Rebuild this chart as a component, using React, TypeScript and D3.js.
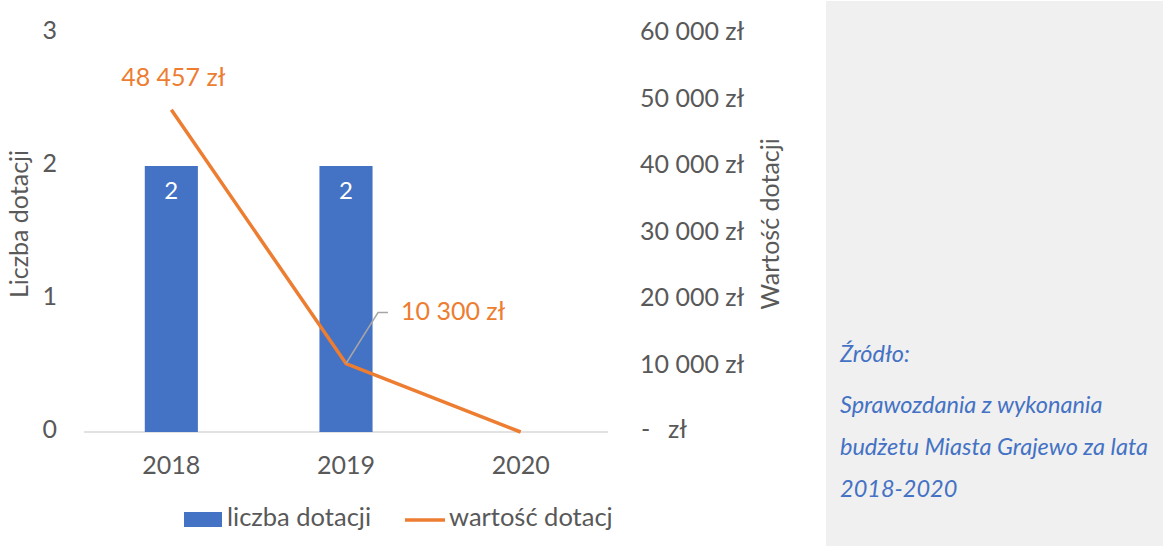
import React from "react";
import * as d3 from "d3";

const categories = ["2018", "2019", "2020"];
const countValues = [2, 2, 0];
const amountValues = [48457, 10300, 0];
const leftTicks = [0, 1, 2, 3];
const rightTicks = [0, 10000, 20000, 30000, 40000, 50000, 60000];
const sourceLines = [
  "Źródło:",
  "Sprawozdania z wykonania",
  "budżetu Miasta Grajewo za lata",
  "2018-2020",
];

const W = 1163;
const H = 546;
const FONT = "Lato, 'Open Sans', sans-serif";
const BLUE = "#4472C4";
const ORANGE = "#ED7D31";
const TXT = "#595959";

const fmtZl = (v: number) => {
  if (v === 0) return null;
  const s = d3.format(",")(v).replace(/,/g, " ");
  return s + " zł";
};

export default function App() {
  const x = d3.scaleBand<string>().domain(categories).range([84, 608]).paddingInner(0.696).paddingOuter(0.348);
  const yL = d3.scaleLinear().domain([0, 3]).range([432, 33]);
  const yR = d3.scaleLinear().domain([0, 60000]).range([432, 33]);
  const cx = (c: string) => (x(c) as number) + x.bandwidth() / 2;

  const line = d3
    .line<number>()
    .x((_, i) => cx(categories[i]))
    .y((d) => yR(d));

  const p2019x = cx(categories[1]);
  const p2019y = yR(amountValues[1]);

  return (
    <svg
      width={W}
      height={H}
      style={{ position: "absolute", left: 0, top: 0, fontFamily: FONT }}
    >
      <rect x={0} y={0} width={W} height={H} fill="#fff" />
      <rect x={826} y={1} width={W - 826} height={H - 1} fill="#F0F0F0" />

      {/* axis baseline */}
      <line x1={84} x2={608} y1={yL(0)} y2={yL(0)} stroke="#D9D9D9" strokeWidth={1.5} />

      {/* bars */}
      {countValues.map((v, i) =>
        v > 0 ? (
          <g key={"b" + i}>
            <rect
              x={x(categories[i])}
              y={yL(v)}
              width={x.bandwidth()}
              height={yL(0) - yL(v)}
              fill={BLUE}
            />
            <text
              x={cx(categories[i])}
              y={yL(v) + 27}
              textAnchor="middle"
              dominantBaseline="middle"
              fill="#fff"
              fontSize={24}
            >
              {v}
            </text>
          </g>
        ) : null
      )}

      {/* line */}
      <path d={line(amountValues) || ""} fill="none" stroke={ORANGE} strokeWidth={3.5} strokeLinejoin="round" />

      {/* data labels */}
      <text
        x={cx(categories[0]) + 2}
        y={yR(amountValues[0]) - 30}
        textAnchor="middle"
        dominantBaseline="middle"
        fill={ORANGE}
        fontSize={25}
      >
        {fmtZl(amountValues[0])}
      </text>
      <polyline
        points={`${p2019x},${p2019y} ${p2019x + 32},${p2019y - 51} ${p2019x + 42},${p2019y - 51}`}
        fill="none"
        stroke="#A6A6A6"
        strokeWidth={1.5}
      />
      <text
        x={p2019x + 55}
        y={p2019y - 50}
        textAnchor="start"
        dominantBaseline="middle"
        fill={ORANGE}
        fontSize={25}
      >
        {fmtZl(amountValues[1])}
      </text>

      {/* left ticks */}
      {leftTicks.map((t) => (
        <text key={"l" + t} x={57} y={yL(t)} textAnchor="end" dominantBaseline="middle" fill={TXT} fontSize={25}>
          {t}
        </text>
      ))}

      {/* right ticks */}
      {rightTicks.map((t) =>
        t === 0 ? (
          <g key={"r" + t}>
            <text x={641} y={yR(t)} dominantBaseline="middle" fill={TXT} fontSize={25}>
              -
            </text>
            <text x={668} y={yR(t)} dominantBaseline="middle" fill={TXT} fontSize={25}>
              zł
            </text>
          </g>
        ) : (
          <text key={"r" + t} x={640} y={yR(t) + 1} dominantBaseline="middle" fill={TXT} fontSize={25}>
            {fmtZl(t)}
          </text>
        )
      )}

      {/* x labels */}
      {categories.map((c) => (
        <text key={"x" + c} x={cx(c)} y={468} textAnchor="middle" dominantBaseline="middle" fill={TXT} fontSize={25}>
          {c}
        </text>
      ))}

      {/* axis titles */}
      <text
        transform={`translate(22,224) rotate(-90)`}
        textAnchor="middle"
        dominantBaseline="middle"
        fill={TXT}
        fontSize={25}
      >
        Liczba dotacji
      </text>
      <text
        transform={`translate(773,224) rotate(-90)`}
        textAnchor="middle"
        dominantBaseline="middle"
        fill={TXT}
        fontSize={25}
      >
        Wartość dotacji
      </text>

      {/* legend */}
      <rect x={184} y={512} width={38} height={15} fill={BLUE} />
      <text x={227} y={520} dominantBaseline="middle" fill={TXT} fontSize={25.5}>
        liczba dotacji
      </text>
      <line x1={405} x2={445} y1={520} y2={520} stroke={ORANGE} strokeWidth={3.5} />
      <text x={449} y={520} dominantBaseline="middle" fill={TXT} fontSize={25.5}>
        wartość dotacj
      </text>

      {/* source */}
      {sourceLines.map((s, i) => (
        <text
          key={"s" + i}
          x={840}
          y={[362, 413, 455, 497][i]}
          fill={BLUE}
          fontStyle="italic"
          fontSize={23.5}
        >
          {s}
        </text>
      ))}
    </svg>
  );
}
